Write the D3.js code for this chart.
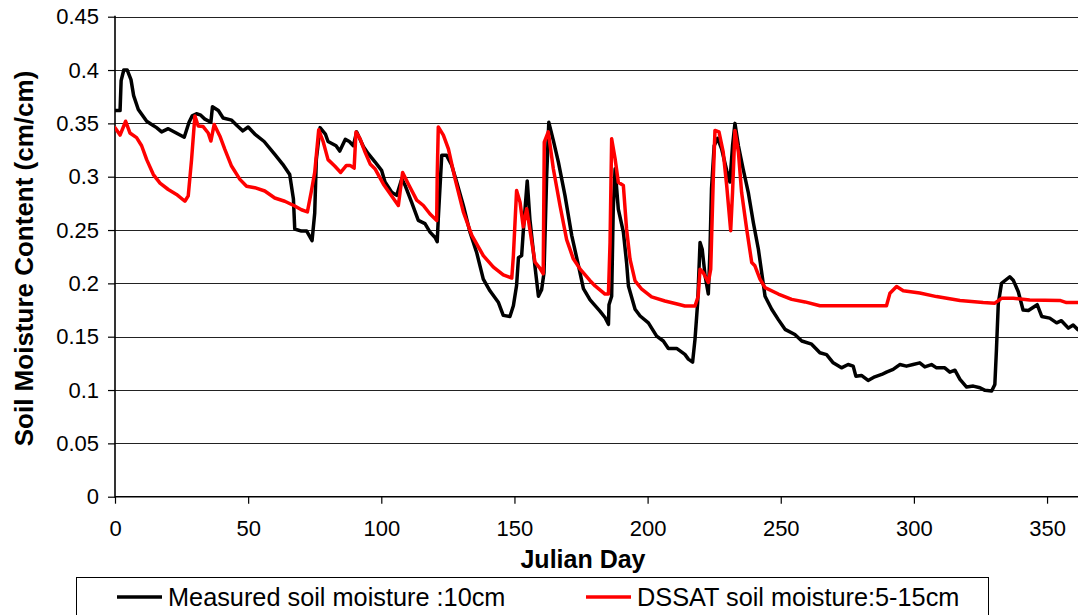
<!DOCTYPE html>
<html>
<head>
<meta charset="utf-8">
<script src="https://cdn.jsdelivr.net/npm/d3@7"></script>
<style>
  html, body { margin: 0; padding: 0; background: #fff; }
  svg { display: block; font-family: "Liberation Sans", Arial, sans-serif; }
</style>
</head>
<body>
<svg id="chart" width="1078" height="615"></svg>
<script>
// ---- data ----
const measuredDays = [0, 1.9, 2.3, 3.3, 4.6, 6, 7, 8.75, 11.9, 13.75, 15.6, 17.5, 20, 23, 26, 27.8, 29, 30.6, 32, 33.75, 36, 36.6, 38.8, 40.6, 43.8, 46, 48, 50, 52.5, 56, 60, 63, 65.6, 67, 67.5, 70, 72, 74, 75, 75.6, 77, 79, 80, 83, 84.4, 86.5, 88, 89.5, 90.75, 93.3, 95.1, 97.6, 100.1, 101.4, 103.9, 105.8, 107.7, 108.9, 111.4, 113.9, 116.4, 118.3, 120.2, 121, 121.4, 122.7, 124.5, 126.4, 128.3, 130.8, 133.3, 135.8, 138.3, 140.8, 144, 145.8, 148.3, 149.6, 150.8, 151.5, 152.7, 153.3, 154.8, 155.8, 157.7, 159, 160.2, 161.1, 162.1, 162.9, 164.6, 166.5, 169, 171.5, 174, 175.9, 178.4, 182.1, 184, 185.3, 185.5, 186.5, 187.1, 187.8, 189, 190.9, 192.1, 192.8, 195.3, 197.2, 200.3, 203.4, 205.9, 207.8, 210.9, 214, 215.3, 216.9, 217.8, 218.8, 219.7, 220.5, 221.6, 222.8, 223.4, 224, 225, 226.3, 227.8, 229.7, 230.9, 231.9, 232.8, 234.1, 235.9, 237.8, 239.7, 241.6, 244.1, 246.6, 249.1, 251.6, 255.3, 257.9, 261.6, 264.7, 267.2, 269.7, 272.8, 275.3, 277.2, 278.2, 280.3, 282.8, 285.3, 287.9, 289.7, 292.2, 294.7, 297.2, 299.7, 302.2, 304.1, 306.6, 308.5, 311.6, 313.5, 315.4, 317.3, 319.8, 322.3, 324.8, 326.7, 329.2, 330.4, 331, 331.7, 332.9, 336, 337.3, 339.2, 341, 343, 346.3, 348, 351, 353.6, 355.4, 358, 359.8, 361.6, 365];
const measuredValues = [0.362, 0.362, 0.39, 0.40, 0.40, 0.391, 0.376, 0.363, 0.352, 0.349, 0.346, 0.342, 0.345, 0.341, 0.337, 0.351, 0.357, 0.359, 0.358, 0.354, 0.351, 0.3656, 0.362, 0.355, 0.353, 0.3475, 0.343, 0.3466, 0.34, 0.333, 0.321, 0.3116, 0.302, 0.279, 0.251, 0.249, 0.249, 0.24, 0.266, 0.316, 0.346, 0.34, 0.333, 0.329, 0.324, 0.335, 0.333, 0.329, 0.342, 0.328, 0.3216, 0.314, 0.306, 0.295, 0.2855, 0.2825, 0.298, 0.292, 0.276, 0.259, 0.256, 0.248, 0.243, 0.239, 0.261, 0.32, 0.32, 0.311, 0.295, 0.273, 0.248, 0.229, 0.204, 0.193, 0.182, 0.17, 0.169, 0.179, 0.198, 0.224, 0.226, 0.248, 0.296, 0.26, 0.216, 0.188, 0.194, 0.21, 0.301, 0.351, 0.334, 0.3136, 0.282, 0.245, 0.217, 0.195, 0.1845, 0.174, 0.168, 0.1616, 0.18, 0.188, 0.2697, 0.3074, 0.2697, 0.248, 0.2196, 0.1976, 0.1757, 0.1694, 0.163, 0.1506, 0.146, 0.139, 0.139, 0.1334, 0.129, 0.1262, 0.1475, 0.182, 0.2384, 0.232, 0.207, 0.19, 0.229, 0.2886, 0.329, 0.336, 0.326, 0.3058, 0.295, 0.329, 0.35, 0.329, 0.307, 0.2854, 0.257, 0.232, 0.188, 0.1757, 0.166, 0.1569, 0.152, 0.146, 0.143, 0.135, 0.1332, 0.1255, 0.1208, 0.1239, 0.1224, 0.113, 0.1137, 0.109, 0.1124, 0.1146, 0.1168, 0.1193, 0.1239, 0.1224, 0.1239, 0.1255, 0.1217, 0.1239, 0.1208, 0.1208, 0.1168, 0.1186, 0.11, 0.1028, 0.1037, 0.1022, 0.0997, 0.099, 0.1053, 0.138, 0.1814, 0.2, 0.2062, 0.203, 0.1922, 0.175, 0.1745, 0.18, 0.169, 0.1674, 0.163, 0.165, 0.158, 0.161, 0.1565, 0.155];

const dssatDays = [0, 1.9, 4, 5.6, 8.1, 10, 11.9, 14.4, 16.9, 20, 23.1, 26.25, 27.5, 28.75, 30, 31.25, 33.1, 35, 36, 37.25, 39.4, 41.25, 43.75, 46.9, 49.4, 52.5, 56.25, 60, 63.75, 67.5, 70, 72.25, 73.75, 75, 76.5, 78.1, 80, 82.5, 84.75, 86.9, 88.25, 89.8, 90.5, 92, 93.9, 95.8, 97.6, 100.8, 103.9, 106.4, 108, 110.2, 113.3, 115.8, 118.3, 120.8, 121, 121.4, 123.3, 125.2, 127.7, 130.8, 134, 138.3, 142.1, 145.8, 149, 149.6, 150.8, 152.1, 153.3, 154.6, 156.5, 157.7, 159.6, 160.8, 161.2, 162.7, 164.6, 167.1, 169.6, 172.1, 174.6, 178.4, 180.3, 184, 185.3, 185.9, 186.5, 187.8, 189, 190.9, 192.1, 193.4, 195.3, 197.8, 201.5, 206.5, 211.5, 214, 217.8, 219, 219.7, 220.9, 222.8, 223.7, 224.7, 225.3, 226.8, 228.4, 229.7, 231.2, 231.9, 232.8, 234.1, 235.3, 237.2, 239.1, 240.3, 242.2, 244.1, 249.1, 254.1, 259.1, 264.7, 289.7, 291, 293.5, 296, 302.2, 308.5, 317.3, 326, 330.4, 332.9, 337.3, 343.5, 354.8, 357.3, 365];
const dssatValues = [0.346, 0.339, 0.352, 0.341, 0.3366, 0.329, 0.316, 0.302, 0.294, 0.288, 0.2834, 0.277, 0.282, 0.316, 0.357, 0.3475, 0.347, 0.341, 0.3334, 0.349, 0.338, 0.3256, 0.31, 0.2975, 0.291, 0.2897, 0.2866, 0.28, 0.277, 0.2725, 0.269, 0.267, 0.2866, 0.304, 0.344, 0.3334, 0.316, 0.31, 0.304, 0.3106, 0.3106, 0.308, 0.342, 0.3356, 0.323, 0.312, 0.3075, 0.293, 0.282, 0.273, 0.304, 0.293, 0.278, 0.273, 0.265, 0.259, 0.301, 0.3466, 0.339, 0.326, 0.298, 0.267, 0.245, 0.226, 0.2153, 0.208, 0.205, 0.226, 0.287, 0.276, 0.253, 0.27, 0.239, 0.22, 0.214, 0.209, 0.3325, 0.342, 0.3075, 0.273, 0.241, 0.223, 0.2136, 0.2025, 0.1976, 0.19, 0.19, 0.2384, 0.3356, 0.3168, 0.2948, 0.2917, 0.251, 0.2227, 0.2023, 0.1945, 0.1873, 0.1835, 0.1804, 0.1788, 0.1788, 0.188, 0.2133, 0.21, 0.2008, 0.2133, 0.301, 0.3434, 0.342, 0.323, 0.2917, 0.2494, 0.2854, 0.3434, 0.323, 0.2854, 0.2509, 0.2196, 0.2165, 0.204, 0.196, 0.19, 0.185, 0.1826, 0.179, 0.179, 0.1907, 0.197, 0.193, 0.191, 0.1876, 0.184, 0.182, 0.1814, 0.186, 0.186, 0.1845, 0.184, 0.182, 0.182];

const yTicks = [0, 0.05, 0.1, 0.15, 0.2, 0.25, 0.3, 0.35, 0.4, 0.45];
const xTicks = [0, 50, 100, 150, 200, 250, 300, 350];
const seriesNames = ["Measured soil moisture :10cm", "DSSAT soil moisture:5-15cm"];
const seriesColors = ["#000000", "#ff0000"];
const xTitle = "Julian Day";
const yTitle = "Soil Moisture Content (cm/cm)";

// ---- layout ----
const svg = d3.select("#chart");
const W = 1078;
const plotLeft = 115, plotTop = 16.7, plotBottom = 496.7;
const x = d3.scaleLinear().domain([0, 365]).range([plotLeft, plotLeft + 365 * 2.663]);
const y = d3.scaleLinear().domain([0, 0.45]).range([plotBottom, plotTop]);

svg.append("defs").append("clipPath").attr("id", "plot")
  .append("rect").attr("x", plotLeft).attr("y", 0).attr("width", W - plotLeft).attr("height", plotBottom + 2);

// gridlines
svg.append("g").selectAll("line").data(yTicks.filter(d => d > 0)).join("line")
  .attr("x1", plotLeft).attr("x2", W)
  .attr("y1", d => Math.round(y(d)) + 0.5).attr("y2", d => Math.round(y(d)) + 0.5)
  .attr("stroke", "#222").attr("stroke-width", 1);

// y axis
const yAxis = d3.axisLeft(y).tickValues(yTicks).tickSize(7).tickPadding(8)
  .tickFormat(d => String(+d.toFixed(2)));
const gy = svg.append("g").attr("transform", `translate(${plotLeft},0)`).call(yAxis);
gy.select(".domain").remove();
gy.selectAll(".tick line").attr("stroke", "#000").attr("stroke-width", 1.2);
gy.selectAll(".tick text").attr("font-size", 22).attr("fill", "#000")
  .attr("font-family", "Liberation Sans, Arial, sans-serif").attr("x", -16);

// x axis
const xAxis = d3.axisBottom(x).tickValues(xTicks).tickSize(7).tickPadding(17).tickFormat(d3.format("d"));
const gx = svg.append("g").attr("transform", `translate(0,${plotBottom})`).call(xAxis);
gx.select(".domain").remove();
gx.selectAll(".tick line").attr("stroke", "#000").attr("stroke-width", 1.2);
gx.selectAll(".tick text").attr("font-size", 22).attr("fill", "#000")
  .attr("font-family", "Liberation Sans, Arial, sans-serif");

// axis lines
svg.append("line").attr("x1", plotLeft).attr("x2", plotLeft).attr("y1", plotTop - 1).attr("y2", plotBottom + 1)
  .attr("stroke", "#000").attr("stroke-width", 1.6);
svg.append("line").attr("x1", plotLeft).attr("x2", W).attr("y1", plotBottom).attr("y2", plotBottom)
  .attr("stroke", "#000").attr("stroke-width", 1.6);

// series
const line = d3.line().x(d => x(d[0])).y(d => y(d[1]));
const series = [
  d3.zip(measuredDays, measuredValues),
  d3.zip(dssatDays, dssatValues)
];
const gLines = svg.append("g").attr("clip-path", "url(#plot)");
gLines.selectAll("path").data(series).join("path")
  .attr("d", line)
  .attr("fill", "none")
  .attr("stroke", (d, i) => seriesColors[i])
  .attr("stroke-width", 3.5)
  .attr("stroke-linejoin", "round")
  .attr("stroke-linecap", "round");

// titles
svg.append("text").attr("x", 583).attr("y", 568).attr("text-anchor", "middle")
  .attr("font-size", 25).attr("font-weight", "bold").text(xTitle);
svg.append("text").attr("transform", "translate(33,258.5) rotate(-90)").attr("text-anchor", "middle")
  .attr("font-size", 26).attr("font-weight", "bold").text(yTitle);

// legend
svg.append("rect").attr("x", 76.5).attr("y", 577.5).attr("width", 912).attr("height", 60)
  .attr("fill", "#fff").attr("stroke", "#000").attr("stroke-width", 1);
const legendX = [117, 586];
seriesNames.forEach((name, i) => {
  svg.append("line").attr("x1", legendX[i]).attr("x2", legendX[i] + 45)
    .attr("y1", 597).attr("y2", 597).attr("stroke", seriesColors[i]).attr("stroke-width", 3.5);
  svg.append("text").attr("x", legendX[i] + 51).attr("y", 605.5)
    .attr("font-size", 25.3).text(name);
});
</script>
</body>
</html>
